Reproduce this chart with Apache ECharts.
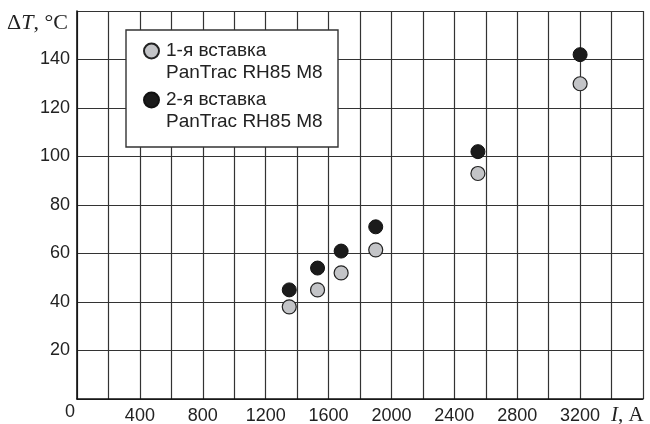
<!DOCTYPE html>
<html>
<head>
<meta charset="utf-8">
<script src="https://cdn.jsdelivr.net/npm/echarts@6/dist/echarts.min.js"></script>
<style>
  html, body { margin: 0; padding: 0; background: #fff; }
  #chart { width: 650px; height: 424px; }
</style>
</head>
<body>
<div id="chart"></div>
<script>
// данные
const currentA = [1350, 1530, 1680, 1900, 2550, 3200];
const insert1 = [38, 45, 52, 61.5, 93, 130];
const insert2 = [45, 54, 61, 71, 102, 142];
const seriesNames = ['1-я вставка', '2-я вставка'];
const subName = 'PanTrac RH85 M8';

const font = 'Liberation Sans, Arial, sans-serif';
const serif = 'Liberation Serif, Times New Roman, serif';

function pairs(xs, ys) {
  return xs.map((x, i) => [x, ys[i]]);
}

let myChart = echarts.init(document.getElementById('chart'));

let option = {
  backgroundColor: '#fff',
  animation: false,
  grid: { left: 77, top: 11, right: 7, bottom: 25, outerBoundsMode: 'none' },
  xAxis: {
    type: 'value',
    min: 0,
    max: 3600,
    interval: 200,
    axisLine: { lineStyle: { color: '#111', width: 1.6 } },
    axisTick: { show: false },
    axisLabel: {
      margin: 8,
      color: '#222',
      fontSize: 18,
      fontFamily: font,
      formatter: v => (v % 400 === 0 && v > 0 && v < 3600 ? String(v) : '')
    },
    splitLine: { show: true, lineStyle: { color: '#333', width: 1.2 } }
  },
  yAxis: {
    type: 'value',
    min: 0,
    max: 160,
    interval: 20,
    axisLine: { show: true, lineStyle: { color: '#111', width: 1.6 } },
    axisTick: { show: false },
    axisLabel: {
      margin: 7,
      color: '#222',
      fontSize: 18,
      fontFamily: font,
      formatter: v => (v > 0 && v < 160 ? String(v) : '')
    },
    splitLine: { show: true, lineStyle: { color: '#333', width: 1.2 } }
  },
  legend: {
    orient: 'vertical',
    left: 143,
    top: 18,
    padding: 0,
    itemGap: -17,
    itemWidth: 19,
    itemHeight: 15,
    z: 100,
    data: seriesNames,
    formatter: name => '\n' + name + '\n' + subName,
    textStyle: { color: '#222', fontSize: 19, fontFamily: font, lineHeight: 22 }
  },
  graphic: [
    {
      type: 'rect',
      z: 50,
      shape: { x: 126, y: 30, width: 212, height: 117 },
      style: { fill: '#fff', stroke: '#333', lineWidth: 1.4 }
    },
    {
      type: 'text',
      left: 7,
      top: 12,
      style: {
        text: 'Δ{i|T}, °C',
        font: '22px ' + serif,
        fill: '#222',
        rich: { i: { fontStyle: 'italic', fontSize: 22, fontFamily: serif, fill: '#222' } }
      }
    },
    {
      type: 'text',
      left: 611,
      top: 405,
      style: {
        text: '{i|I}, A',
        font: '21px ' + serif,
        fill: '#222',
        rich: { i: { fontStyle: 'italic', fontSize: 21, fontFamily: serif, fill: '#222' } }
      }
    },
    {
      type: 'text',
      left: 65,
      top: 403,
      style: { text: '0', font: '18px ' + font, fill: '#222' }
    }
  ],
  series: [
    {
      name: seriesNames[0],
      type: 'scatter',
      symbol: 'circle',
      symbolSize: 14,
      z: 10,
      itemStyle: { color: '#c3c4c7', borderColor: '#222', borderWidth: 1.2, opacity: 1 },
      data: pairs(currentA, insert1)
    },
    {
      name: seriesNames[1],
      type: 'scatter',
      symbol: 'circle',
      symbolSize: 14,
      z: 10,
      itemStyle: { color: '#1b1b1b', borderColor: '#111', borderWidth: 1, opacity: 1 },
      data: pairs(currentA, insert2)
    }
  ]
};

myChart.setOption(option);
</script>
</body>
</html>
